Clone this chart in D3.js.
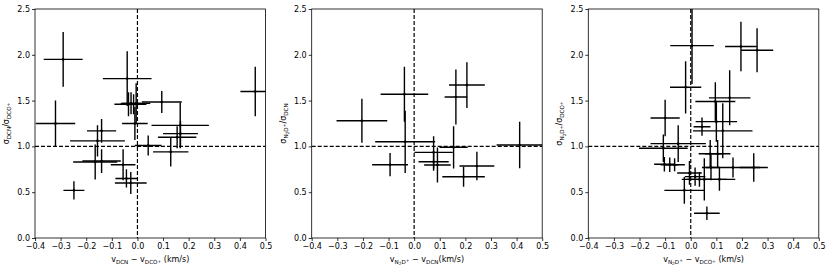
<!DOCTYPE html>
<html>
<head>
<meta charset="utf-8">
<script src="https://cdn.jsdelivr.net/npm/d3@7"></script>
<style>
  body { margin: 0; background: #fff; }
  svg { display: block; }
  text { font-family: "DejaVu Sans", sans-serif; fill: #000; }
</style>
</head>
<body>
<div id="chart"></div>
<script>
const xTicks = [-0.4, -0.3, -0.2, -0.1, 0.0, 0.1, 0.2, 0.3, 0.4, 0.5];
const yTicks = [0.0, 0.5, 1.0, 1.5, 2.0, 2.5];

// panel 1 : DCN vs DCO+
const p1X    = [-0.29, -0.32, -0.04, -0.035, -0.025, -0.015, -0.005, -0.01, 0.095, 0.167, 0.168, 0.155, -0.14, -0.156, -0.165, -0.14, -0.056, -0.043, -0.026, -0.248, 0.042, 0.13, 0.46];
const p1Y    = [1.95, 1.25, 1.74, 1.46, 1.47, 1.46, 1.47, 1.25, 1.485, 1.23, 1.14, 1.10, 1.17, 1.06, 0.83, 0.84, 0.80, 0.65, 0.60, 0.52, 1.01, 0.94, 1.60];
const p1XErr = [0.076, 0.077, 0.095, 0.055, 0.04, 0.05, 0.055, 0.05, 0.078, 0.112, 0.068, 0.075, 0.057, 0.107, 0.086, 0.075, 0.048, 0.043, 0.062, 0.041, 0.052, 0.069, 0.058];
const p1YErr = [0.30, 0.25, 0.30, 0.13, 0.12, 0.11, 0.22, 0.18, 0.12, 0.25, 0.14, 0.12, 0.13, 0.17, 0.19, 0.13, 0.17, 0.10, 0.12, 0.10, 0.11, 0.16, 0.27];

// panel 2 : N2D+ vs DCN
const p2X    = [-0.204, -0.038, 0.163, 0.206, -0.035, -0.094, 0.076, 0.076, 0.091, 0.154, 0.245, 0.193, 0.412];
const p2Y    = [1.28, 1.57, 1.54, 1.67, 1.05, 0.80, 0.935, 0.833, 0.797, 0.99, 0.786, 0.669, 1.015];
const p2XErr = [0.099, 0.093, 0.044, 0.07, 0.117, 0.07, 0.075, 0.059, 0.052, 0.055, 0.068, 0.083, 0.09];
const p2YErr = [0.24, 0.30, 0.30, 0.25, 0.34, 0.127, 0.176, 0.10, 0.19, 0.23, 0.155, 0.11, 0.254];

// panel 3 : N2D+ vs DCO+
const p3X    = [0.005, 0.196, 0.259, -0.02, -0.10, 0.096, 0.152, 0.10, 0.044, 0.125, -0.049, -0.107, -0.103, -0.082, -0.063, -0.005, 0.034, 0.053, 0.112, -0.025, 0.063, 0.246, 0.165, 0.079, 0.076, 0.105, 0.017];
const p3Y    = [2.10, 2.09, 2.05, 1.645, 1.31, 1.49, 1.53, 1.27, 1.215, 1.17, 1.03, 0.98, 0.805, 0.80, 0.80, 0.71, 0.64, 0.64, 0.64, 0.52, 0.27, 0.77, 0.77, 0.77, 0.92, 0.92, 0.67];
const p3XErr = [0.085, 0.062, 0.063, 0.061, 0.057, 0.078, 0.081, 0.081, 0.033, 0.116, 0.108, 0.095, 0.04, 0.035, 0.04, 0.048, 0.05, 0.088, 0.062, 0.078, 0.05, 0.055, 0.106, 0.035, 0.045, 0.05, 0.04];
const p3YErr = [0.42, 0.27, 0.24, 0.285, 0.20, 0.21, 0.30, 0.22, 0.10, 0.30, 0.20, 0.15, 0.08, 0.08, 0.07, 0.13, 0.08, 0.23, 0.124, 0.145, 0.073, 0.155, 0.11, 0.14, 0.15, 0.15, 0.10];

const W = 831, H = 270;
const plotTop = 9, plotBottom = 238, plotW = 230.5;

// label pieces: [text, size, shift (px, + is down)]
const panels = [
  { left: 35, x: p1X, y: p1Y, xe: p1XErr, ye: p1YErr,
    xlab: [["v", 8, 0], ["DCN", 5.6, 2], [" − v", 8, 0], ["DCO", 5.6, 2], ["+", 4.5, 0.5], [" (km/s)", 8, 0]],
    ylab: [["σ", 8, 0], ["DCN", 5.6, 2], ["/σ", 8, 0], ["DCO", 5.6, 2], ["+", 4.5, 0.5]] },
  { left: 311.7, x: p2X, y: p2Y, xe: p2XErr, ye: p2YErr,
    xlab: [["v", 8, 0], ["N", 5.6, 2], ["2", 4.3, 3.2], ["D", 5.6, 2], ["+", 4.5, 0.3], [" − v", 8, 0], ["DCN", 5.6, 2], ["(km/s)", 8, 0]],
    ylab: [["σ", 8, 0], ["N", 5.6, 2], ["2", 4.3, 3.2], ["D", 5.6, 2], ["+", 4.5, 0.3], ["/σ", 8, 0], ["DCN", 5.6, 2]] },
  { left: 588.3, x: p3X, y: p3Y, xe: p3XErr, ye: p3YErr,
    xlab: [["v", 8, 0], ["N", 5.6, 2], ["2", 4.3, 3.2], ["D", 5.6, 2], ["+", 4.5, 0.3], [" − v", 8, 0], ["DCO", 5.6, 2], ["+", 4.5, 0.5], [" (km/s)", 8, 0]],
    ylab: [["σ", 8, 0], ["N", 5.6, 2], ["2", 4.3, 3.2], ["D", 5.6, 2], ["+", 4.5, 0.3], ["/σ", 8, 0], ["DCO", 5.6, 2], ["+", 4.5, 0.5]] }
];

const svg = d3.select("#chart").append("svg")
  .attr("width", W)
  .attr("height", H);

function writeLabel(t, pieces) {
  let prev = 0;
  pieces.forEach(p => {
    t.append("tspan")
      .attr("font-size", p[1])
      .attr("dy", p[2] - prev)
      .text(p[0]);
    prev = p[2];
  });
}

const fmt = d3.format(".1f");

panels.forEach((p, i) => {
  const x = d3.scaleLinear().domain([-0.4, 0.5]).range([p.left, p.left + plotW]);
  const y = d3.scaleLinear().domain([0, 2.5]).range([plotBottom, plotTop]);

  svg.append("clipPath").attr("id", "clip" + i)
    .append("rect")
    .attr("x", p.left).attr("y", plotTop)
    .attr("width", plotW).attr("height", plotBottom - plotTop);

  const g = svg.append("g").attr("clip-path", "url(#clip" + i + ")");
  const pts = d3.range(p.x.length);

  // error bars
  g.selectAll("line.xe").data(pts).join("line")
    .attr("class", "xe")
    .attr("x1", d => x(p.x[d] - p.xe[d]))
    .attr("x2", d => x(p.x[d] + p.xe[d]))
    .attr("y1", d => y(p.y[d]))
    .attr("y2", d => y(p.y[d]))
    .attr("stroke", "#000").attr("stroke-width", 1.4);
  g.selectAll("line.ye").data(pts).join("line")
    .attr("class", "ye")
    .attr("x1", d => x(p.x[d]))
    .attr("x2", d => x(p.x[d]))
    .attr("y1", d => y(p.y[d] - p.ye[d]))
    .attr("y2", d => y(p.y[d] + p.ye[d]))
    .attr("stroke", "#000").attr("stroke-width", 1.4);
  g.selectAll("circle").data(pts).join("circle")
    .attr("cx", d => x(p.x[d]))
    .attr("cy", d => y(p.y[d]))
    .attr("r", 1.3)
    .attr("fill", "#000");

  // reference lines
  g.append("line")
    .attr("x1", x(0)).attr("x2", x(0))
    .attr("y1", plotTop).attr("y2", plotBottom)
    .attr("stroke", "#000").attr("stroke-width", 1.2)
    .attr("stroke-dasharray", "4,2");
  g.append("line")
    .attr("x1", p.left).attr("x2", p.left + plotW)
    .attr("y1", y(1)).attr("y2", y(1))
    .attr("stroke", "#000").attr("stroke-width", 1.2)
    .attr("stroke-dasharray", "4,2");

  // axes
  const xAxis = d3.axisBottom(x).tickValues(xTicks).tickFormat(fmt).tickSize(3).tickPadding(2);
  const yAxis = d3.axisLeft(y).tickValues(yTicks).tickFormat(fmt).tickSize(3).tickPadding(2);

  const gx = svg.append("g").attr("transform", "translate(0," + plotBottom + ")").call(xAxis);
  const gy = svg.append("g").attr("transform", "translate(" + p.left + ",0)").call(yAxis);
  [gx, gy].forEach(a => {
    a.select(".domain").remove();
    a.selectAll("line").attr("stroke", "#000").attr("stroke-width", 0.8);
    a.selectAll("text").attr("font-size", 8).attr("font-family", "DejaVu Sans, sans-serif").attr("fill", "#000");
  });

  // frame
  svg.append("rect")
    .attr("x", p.left).attr("y", plotTop)
    .attr("width", plotW).attr("height", plotBottom - plotTop)
    .attr("fill", "none")
    .attr("stroke", "#000").attr("stroke-width", 0.8);

  // axis titles
  const xt = svg.append("text")
    .attr("x", p.left + plotW / 2)
    .attr("y", 262)
    .attr("text-anchor", "middle")
    .attr("font-size", 8);
  writeLabel(xt, p.xlab);

  const yt = svg.append("text")
    .attr("transform", "translate(" + (p.left - 26) + "," + ((plotTop + plotBottom) / 2) + ") rotate(-90)")
    .attr("text-anchor", "middle")
    .attr("font-size", 8);
  writeLabel(yt, p.ylab);
});
</script>
</body>
</html>
